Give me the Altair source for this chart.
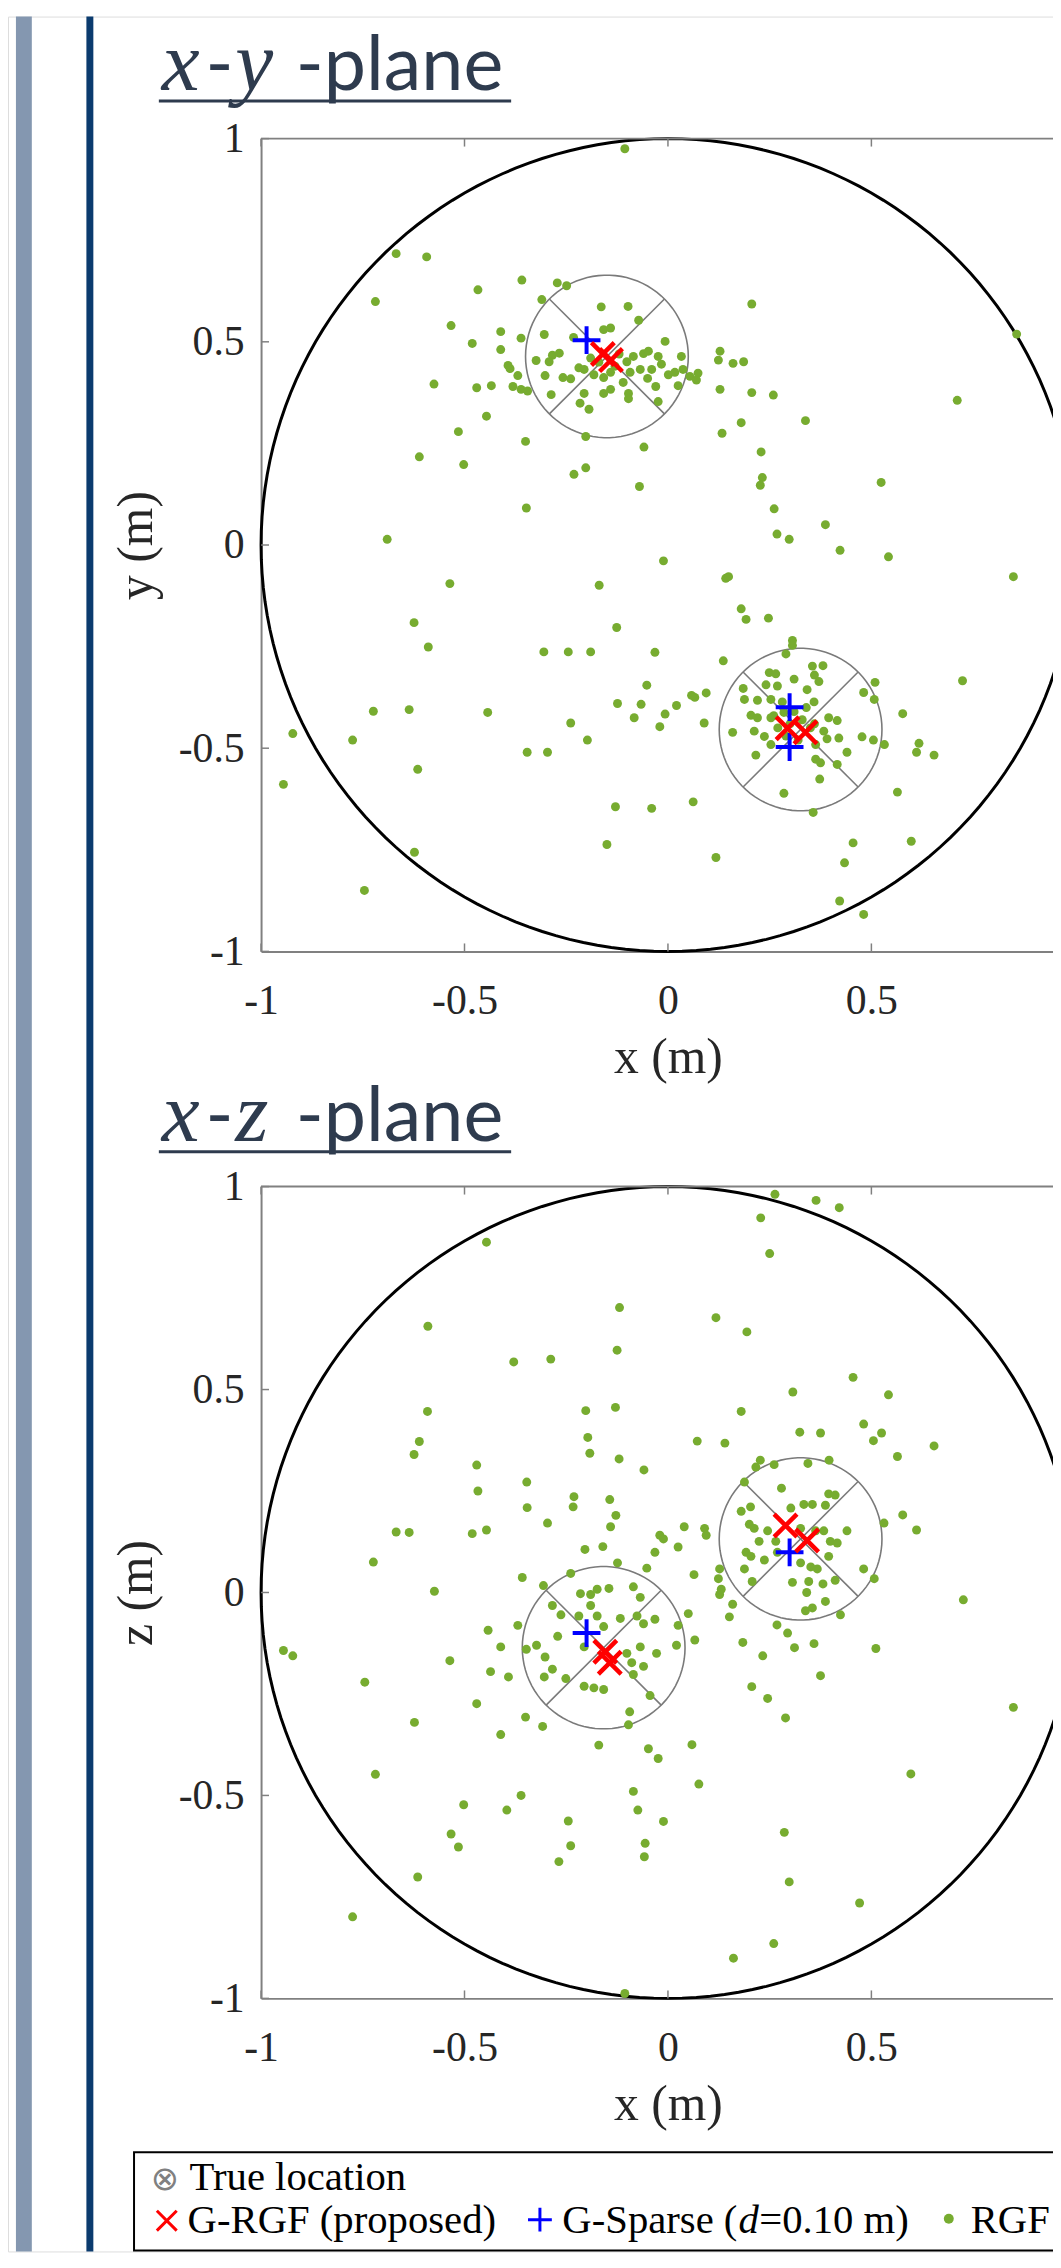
import altair as alt
import pandas as pd

# ------------------------------------------------------------------ data
TICKS = [-1, -0.5, 0, 0.5, 1]
X_LABEL_TICKS = [-1, -0.5, 0, 0.5]      # the label of x = 1 lies outside the picture
REGION_RADIUS = 1.0
TRUE_RADIUS = 0.2

# x-y plane : RGF estimates
XY_RGF_X = [-0.106, -0.668, -0.593, -0.719, -0.467, -0.359, -0.272, -0.249, -0.310, -0.164, -0.098, -0.072,
            -0.533, -0.411, -0.481, -0.411, -0.361, -0.304, -0.232, -0.158, -0.141, -0.324, -0.284, -0.267,
            -0.292, -0.393, -0.388, -0.369, -0.302, -0.258, -0.239, -0.219, -0.206, -0.182, -0.158, -0.141,
            -0.101, -0.085, -0.060, -0.093, -0.068, -0.575, -0.470, -0.434, -0.381, -0.361, -0.345, -0.287,
            -0.206, -0.158, -0.141, -0.097, -0.097, -0.216, -0.194, -0.446, -0.515, -0.350, -0.202, -0.059,
            -0.611, -0.502, -0.231, -0.202, -0.070, -0.348, -0.690, -0.536, -0.169, -0.624, -0.126, -0.589,
            -0.305, -0.245, -0.190, -0.052, -0.124, -0.066, -0.083, -0.724, -0.636, -0.443, -0.239, -0.922,
            -0.775, -0.198, -0.346, -0.296, -0.615, -0.945, -0.129, -0.040, -0.150, -0.623, -0.746,
            -0.007, -0.048, -0.024, -0.016, -0.040, 0.001, 0.017, 0.033, 0.037, 0.054, 0.074, 0.070, 0.025,
            -0.024, 0.206, 0.128, 0.124, 0.160, 0.186, 0.128, 0.206, 0.259, 0.338, 0.180, 0.133, 0.229,
            0.232, 0.227, 0.261, 0.524, 0.711, 0.857, 0.387, 0.268, 0.298, 0.423, 0.542, -0.011, 0.142,
            0.149, 0.849, 0.180, 0.192, 0.247, 0.306, 0.306, -0.032, 0.136, 0.290, 0.066, 0.094, 0.058,
            0.021, -0.007, -0.020, 0.089,
            0.249, 0.265, 0.355, 0.381, 0.310, 0.360, 0.371, 0.241, 0.269, 0.185, 0.342, 0.188, 0.220,
            0.253, 0.281, 0.359, 0.204, 0.220, 0.253, 0.285, 0.395, 0.416, 0.212, 0.159, 0.237, 0.383,
            0.420, 0.391, 0.253, 0.363, 0.216, 0.440, 0.363, 0.375, 0.416, 0.373, 0.285, 0.357, 0.477,
            0.505, 0.532, 0.481, 0.509, 0.507, 0.577, 0.617, 0.611, 0.654, 0.724, 0.564, 0.062, 0.118,
            0.455, 0.598, 0.434, 0.422, 0.481,
            0.300, 0.330, 0.350, 0.270, 0.320, 0.340, 0.290, 0.360, 0.260, 0.310,
            -0.130, -0.170, -0.120, -0.190, -0.110, -0.050, -0.030]
XY_RGF_Y = [0.975, 0.717, 0.709, 0.599, 0.628, 0.652, 0.645, 0.638, 0.604, 0.586, 0.587, 0.553,
            0.540, 0.525, 0.496, 0.481, 0.509, 0.518, 0.511, 0.530, 0.534, 0.454, 0.467, 0.472,
            0.451, 0.442, 0.434, 0.417, 0.417, 0.412, 0.409, 0.436, 0.432, 0.419, 0.412, 0.425,
            0.451, 0.464, 0.471, 0.425, 0.432, 0.396, 0.387, 0.392, 0.390, 0.383, 0.379, 0.370,
            0.373, 0.373, 0.383, 0.373, 0.360, 0.349, 0.334, 0.317, 0.279, 0.255, 0.267, 0.241,
            0.217, 0.198, 0.174, 0.190, 0.144, 0.091, 0.014, -0.095, -0.099, -0.191, -0.203, -0.251,
            -0.263, -0.263, -0.263, -0.345, -0.390, -0.392, -0.425, -0.409, -0.405, -0.412, -0.438, -0.464,
            -0.480, -0.480, -0.510, -0.510, -0.552, -0.589, -0.644, -0.648, -0.737, -0.756, -0.850,
            0.501, 0.477, 0.464, 0.445, 0.432, 0.419, 0.425, 0.464, 0.432, 0.415, 0.423, 0.406, 0.392,
            0.353, 0.593, 0.477, 0.455, 0.447, 0.451, 0.383, 0.375, 0.369, 0.306, 0.301, 0.275, 0.229,
            0.166, 0.147, 0.089, 0.154, 0.356, 0.519, 0.050, 0.027, 0.014, -0.013, -0.029, -0.039, -0.082,
            -0.078, -0.078, -0.157, -0.183, -0.180, -0.235, -0.247, -0.264, -0.285, -0.268, -0.375, -0.364, -0.370,
            -0.395, -0.416, -0.447, -0.438,
            -0.314, -0.317, -0.298, -0.297, -0.330, -0.320, -0.336, -0.344, -0.347, -0.353, -0.356, -0.380, -0.382,
            -0.380, -0.386, -0.386, -0.419, -0.425, -0.425, -0.412, -0.425, -0.432, -0.458, -0.461, -0.471, -0.458,
            -0.475, -0.477, -0.491, -0.491, -0.517, -0.510, -0.527, -0.536, -0.540, -0.576, -0.611, -0.658, -0.472,
            -0.480, -0.491, -0.363, -0.338, -0.380, -0.415, -0.488, -0.510, -0.517, -0.334, -0.608, -0.632, -0.769,
            -0.733, -0.729, -0.782, -0.876, -0.909,
            -0.440, -0.430, -0.450, -0.450, -0.480, -0.400, -0.470, -0.440, -0.420, -0.410,
            0.440, 0.450, 0.470, 0.460, 0.400, 0.410, 0.390]
XY_GRGF_X = [-0.160, -0.140, 0.294, 0.338]
XY_GRGF_Y = [0.470, 0.455, -0.451, -0.461]
XY_GSPARSE_X = [-0.200, 0.299, 0.299]
XY_GSPARSE_Y = [0.504, -0.399, -0.497]
XY_TRUE_X = [-0.150, 0.326]
XY_TRUE_Y = [0.464, -0.454]

# x-z plane : RGF estimates
XZ_RGF_X = [-0.446, -0.119, -0.125, -0.590, -0.379, -0.288, -0.591, -0.202, -0.129, -0.611, -0.624, -0.197,
            -0.192, -0.120, -0.470, -0.467, -0.347, -0.346, -0.231, -0.233, -0.143, -0.128, -0.141, -0.296,
            -0.059, -0.668, -0.636, -0.481, -0.446, -0.724, -0.574, -0.204, -0.160, -0.124, -0.052, -0.358,
            -0.306, -0.239, -0.215, -0.190, -0.174, -0.145, -0.085, -0.068, -0.284, -0.263, -0.219, -0.190,
            -0.174, -0.158, -0.117, -0.076, -0.060, -0.369, -0.442, -0.945, -0.922, -0.536, -0.411, -0.348,
            -0.323, -0.302, -0.271, -0.206, -0.101, -0.089, -0.068, -0.436, -0.392, -0.304, -0.284, -0.251,
            -0.206, -0.182, -0.158, -0.085, -0.060, -0.745, -0.470, -0.623, -0.350, -0.308, -0.411, -0.170,
            -0.094, -0.097, -0.048, -0.719, -0.502, -0.361, -0.396, -0.085, -0.074, -0.245, -0.533, -0.515,
            -0.239, -0.056, -0.058, -0.268, -0.615, -0.775, -0.106,
            0.263, 0.364, 0.421, 0.228, 0.250, 0.118, 0.194, 0.455, 0.307, 0.542, 0.180, 0.481, 0.324,
            0.375, 0.525, 0.505, 0.072, 0.140, 0.654, 0.564, 0.227, 0.216, 0.261, 0.344, 0.396, 0.188,
            0.279, 0.395, 0.411, 0.387, 0.180, 0.203, 0.302, 0.334, 0.355, 0.577, 0.531, 0.611, 0.040,
            0.090, 0.094, -0.020, -0.011, 0.025, -0.032, 0.200, 0.212, 0.224, 0.245, 0.265, 0.326, 0.363,
            0.383, 0.399, 0.416, 0.440, 0.192, 0.204, 0.237, 0.269, 0.326, 0.351, 0.367, 0.395, 0.188,
            0.207, 0.306, 0.346, 0.381, 0.411, 0.481, 0.507, 0.064, 0.127, 0.124, 0.127, 0.131, 0.341,
            0.387, 0.726, 0.159, 0.338, 0.355, 0.424, 0.151, 0.050, -0.032, 0.025, 0.268, 0.294, 0.066,
            0.184, 0.359, 0.311, 0.511, 0.021, 0.233, -0.028, 0.375, 0.206, 0.245, 0.289, 0.849, -0.044,
            -0.024, 0.059, 0.076, 0.597, -0.011, 0.286, 0.298, 0.471, 0.260, 0.161]
XZ_RGF_Z = [0.863, 0.702, 0.597, 0.656, 0.568, 0.575, 0.446, 0.448, 0.456, 0.372, 0.340, 0.382,
            0.343, 0.329, 0.314, 0.250, 0.272, 0.209, 0.236, 0.211, 0.229, 0.190, 0.162, 0.171,
            0.302, 0.149, 0.148, 0.145, 0.154, 0.075, 0.003, 0.106, 0.113, 0.073, 0.060, 0.037,
            0.017, 0.047, -0.003, -0.005, 0.008, 0.010, 0.014, -0.012, -0.032, -0.055, -0.058, -0.032,
            -0.058, -0.084, -0.064, -0.058, -0.077, -0.081, -0.093, -0.143, -0.156, -0.168, -0.134, -0.140,
            -0.130, -0.159, -0.108, -0.134, -0.150, -0.173, -0.134, -0.195, -0.208, -0.208, -0.189, -0.212,
            -0.231, -0.235, -0.239, -0.202, -0.182, -0.221, -0.274, -0.320, -0.307, -0.330, -0.350, -0.376,
            -0.294, -0.326, -0.385, -0.448, -0.523, -0.500, -0.536, -0.490, -0.536, -0.563, -0.595, -0.627,
            -0.624, -0.618, -0.651, -0.663, -0.701, -0.799, -0.988,
            0.981, 0.966, 0.948, 0.923, 0.835, 0.677, 0.642, 0.530, 0.494, 0.487, 0.446, 0.415, 0.395,
            0.393, 0.393, 0.374, 0.373, 0.368, 0.361, 0.335, 0.326, 0.309, 0.315, 0.318, 0.326, 0.272,
            0.257, 0.243, 0.240, 0.215, 0.200, 0.211, 0.208, 0.217, 0.217, 0.191, 0.171, 0.154, 0.162,
            0.158, 0.141, 0.141, 0.132, 0.112, 0.099, 0.168, 0.158, 0.126, 0.152, 0.126, 0.158, 0.152,
            0.152, 0.126, 0.122, 0.152, 0.099, 0.089, 0.080, 0.099, 0.073, 0.063, 0.058, 0.089, 0.058,
            0.027, 0.025, 0.027, 0.021, 0.030, 0.058, 0.034, 0.044, 0.058, 0.034, -0.005, 0.008, 0.000,
            -0.022, -0.018, -0.029, -0.045, -0.038, -0.055, -0.060, -0.052, -0.066, -0.081, -0.080, -0.100, -0.117,
            -0.123, -0.126, -0.136, -0.138, -0.130, -0.156, -0.150, -0.205, -0.232, -0.261, -0.309, -0.283, -0.254,
            -0.409, -0.375, -0.472, -0.447, -0.564, -0.591, -0.713, -0.765, -0.865, -0.901]
XZ_GRGF_X = [-0.154, -0.143, 0.289, 0.342]
XZ_GRGF_Z = [-0.146, -0.173, 0.165, 0.128]
XZ_GSPARSE_X = [-0.200, 0.299]
XZ_GSPARSE_Z = [-0.100, 0.099]
XZ_TRUE_X = [-0.158, 0.326]
XZ_TRUE_Z = [-0.136, 0.132]

# ------------------------------------------------------------------ style / layout
W, H = 1053, 2252
X_PIX = [255, 1075]          # pixel range of x in [-1, 1]
P1_Y_PIX = [942, 123]        # pixel range of y in [-1, 1]
P2_Y_PIX = [1997, 1179]      # pixel range of z in [-1, 1]
TICK_LEN = 8

GREEN = "#77AC30"
AXIS_GRAY = "#808080"
RING_GRAY = "#7A7A7A"
TEXT_DARK = "#262626"
TITLE_COLOR = "#2E3B4E"
SERIF = "Liberation Serif"
SANS = "Lato"
PLUS_PATH = "M-1,0L1,0M0,-1L0,1"
X_PATH = "M-1,-1L1,1M-1,1L1,-1"
MINUS_FIX = "replace(datum.label, '\u2212', '-')"
TICK_FS = 42
TITLE_FS = 50
LEG_FS = 41


def xscale():
    return alt.Scale(domain=[-1, 1], range=X_PIX, nice=False, zero=False)


def yscale(rng):
    return alt.Scale(domain=[-1, 1], range=rng, nice=False, zero=False)


def text(txt, x, y, font, size, color, style="normal", align="left", baseline="alphabetic", angle=0):
    return alt.Chart(pd.DataFrame({"t": [txt]})).mark_text(
        font=font, fontSize=size, fontStyle=style, color=color, align=align,
        baseline=baseline, angle=angle
    ).encode(text="t:N", x=alt.value(x), y=alt.value(y))


def panel(rx, ry, gx, gy, sx, sy, tx, ty, y_pix, ytitle):
    bottom, top = y_pix
    xs, ys = xscale(), yscale(y_pix)
    layers = []

    # region of interest (unit circle)
    layers.append(
        alt.Chart(alt.sequence(0, 361, 2, as_="t")).transform_calculate(
            px=f"{REGION_RADIUS}*cos(datum.t*PI/180)", py=f"{REGION_RADIUS}*sin(datum.t*PI/180)"
        ).mark_line(color="black", strokeWidth=3).encode(
            x=alt.X("px:Q", scale=xs, axis=None), y=alt.Y("py:Q", scale=ys, axis=None), order="t:Q")
    )

    tdf = pd.DataFrame({"cx": tx, "cy": ty, "id": list(range(len(tx)))})
    # true-location circles
    layers.append(
        alt.Chart(tdf).transform_calculate(ts="sequence(0, 361, 4)").transform_flatten(["ts"]).transform_calculate(
            px=f"datum.cx + {TRUE_RADIUS}*cos(datum.ts*PI/180)",
            py=f"datum.cy + {TRUE_RADIUS}*sin(datum.ts*PI/180)"
        ).mark_line(color=RING_GRAY, strokeWidth=1.6).encode(
            x=alt.X("px:Q", scale=xs, axis=None), y=alt.Y("py:Q", scale=ys, axis=None),
            detail="id:N", order="ts:Q")
    )
    # the "x" inside each true-location circle
    layers.append(
        alt.Chart(tdf).transform_calculate(s="[1, -1]").transform_flatten(["s"]).transform_calculate(
            x1=f"datum.cx - {TRUE_RADIUS}*SQRT1_2", y1=f"datum.cy - datum.s*{TRUE_RADIUS}*SQRT1_2",
            x2=f"datum.cx + {TRUE_RADIUS}*SQRT1_2", y2=f"datum.cy + datum.s*{TRUE_RADIUS}*SQRT1_2"
        ).mark_rule(color=RING_GRAY, strokeWidth=1.6).encode(
            x=alt.X("x1:Q", scale=xs, axis=None), x2="x2:Q",
            y=alt.Y("y1:Q", scale=ys, axis=None), y2="y2:Q")
    )

    axis_common = dict(
        grid=False, ticks=False, tickSize=0, domain=True, domainColor=AXIS_GRAY,
        domainWidth=2, labelFont=SERIF, labelFontSize=TICK_FS, labelColor=TEXT_DARK, labelFlush=False,
        labelOverlap=False, format="~g", labelExpr=MINUS_FIX, titleFont=SERIF, titleFontSize=TITLE_FS,
        titleFontWeight="normal", titleColor=TEXT_DARK,
    )
    # RGF estimates (carry the axes)
    layers.append(
        alt.Chart(pd.DataFrame({"x": rx, "y": ry})).mark_circle(size=81, color=GREEN, opacity=1).encode(
            x=alt.X("x:Q", scale=xs, axis=alt.Axis(orient="bottom", offset=bottom - H, title="x (m)",
                                                   values=X_LABEL_TICKS, labelPadding=30,
                                                   titlePadding=11, **axis_common)),
            y=alt.Y("y:Q", scale=ys, axis=alt.Axis(orient="left", offset=-X_PIX[0], title=ytitle,
                                                   values=TICKS, labelPadding=17, titlePadding=17,
                                                   **axis_common)),
        )
    )
    # G-Sparse
    layers.append(
        alt.Chart(pd.DataFrame({"x": sx, "y": sy})).mark_point(
            shape=PLUS_PATH, filled=False, color="#0000FF", strokeWidth=4, size=784, opacity=1
        ).encode(x=alt.X("x:Q", scale=xs, axis=None), y=alt.Y("y:Q", scale=ys, axis=None))
    )
    # G-RGF
    layers.append(
        alt.Chart(pd.DataFrame({"x": gx, "y": gy})).mark_point(
            shape=X_PATH, filled=False, color="#FF0000", strokeWidth=4.5, size=529, opacity=1
        ).encode(x=alt.X("x:Q", scale=xs, axis=None), y=alt.Y("y:Q", scale=ys, axis=None))
    )

    # box: top edge and inward ticks
    tk = pd.DataFrame({"v": TICKS})
    layers.append(
        alt.Chart(pd.DataFrame({"a": [-1], "b": [1]})).mark_rule(color=AXIS_GRAY, strokeWidth=2).encode(
            x=alt.X("a:Q", scale=xs, axis=None), x2="b:Q", y=alt.value(top))
    )
    layers.append(
        alt.Chart(tk).mark_rule(color=AXIS_GRAY, strokeWidth=1.5).encode(
            x=alt.X("v:Q", scale=xs, axis=None), y=alt.value(bottom), y2=alt.value(bottom - TICK_LEN))
    )
    layers.append(
        alt.Chart(tk).mark_rule(color=AXIS_GRAY, strokeWidth=1.5).encode(
            x=alt.X("v:Q", scale=xs, axis=None), y=alt.value(top), y2=alt.value(top + TICK_LEN))
    )
    layers.append(
        alt.Chart(tk).mark_rule(color=AXIS_GRAY, strokeWidth=1.5).encode(
            y=alt.Y("v:Q", scale=ys, axis=None), x=alt.value(X_PIX[0]), x2=alt.value(X_PIX[0] + TICK_LEN))
    )
    return layers


def plane_title(var2, base_y):
    return [
        text("x", 155, base_y, SERIF, 86, TITLE_COLOR, style="italic"),
        text("-", 199, base_y, SANS, 76, TITLE_COLOR),
        text(var2, 229, base_y, SERIF, 86, TITLE_COLOR, style="italic"),
        text("-plane", 290, base_y, SANS, 76, TITLE_COLOR),
        alt.Chart(pd.DataFrame({"a": [0]})).mark_rule(color=TITLE_COLOR, strokeWidth=3).encode(
            x=alt.value(152), x2=alt.value(507), y=alt.value(base_y + 11)),
    ]


# decorative slide bars on the left
deco = [
    alt.Chart(pd.DataFrame({"a": [0]})).mark_rect(color="#8497B0").encode(
        x=alt.value(8), x2=alt.value(24), y=alt.value(0), y2=alt.value(H)),
    alt.Chart(pd.DataFrame({"a": [0]})).mark_rect(color="#0B3B6E").encode(
        x=alt.value(79), x2=alt.value(86), y=alt.value(0), y2=alt.value(H)),
]

# legend box
legend = [
    alt.Chart(pd.DataFrame({"a": [0]})).mark_rect(fill="white", stroke="black", strokeWidth=2).encode(
        x=alt.value(127), x2=alt.value(1100), y=alt.value(2152), y2=alt.value(2251)),
    text("\u2297", 158, 2180, "DejaVu Sans", 34, "#808080", align="center", baseline="middle"),
    text("True location", 183, 2190, SERIF, LEG_FS, "black"),
    alt.Chart(pd.DataFrame({"a": [0]})).mark_point(shape=X_PATH, filled=False, color="#FF0000",
                                                  strokeWidth=3, size=400, opacity=1).encode(
        x=alt.value(160), y=alt.value(2221)),
    text("G-RGF (proposed)", 181, 2233, SERIF, LEG_FS, "black"),
    alt.Chart(pd.DataFrame({"a": [0]})).mark_point(shape=PLUS_PATH, filled=False, color="#0000FF",
                                                  strokeWidth=3, size=576, opacity=1).encode(
        x=alt.value(536), y=alt.value(2220)),
    text("G-Sparse (", 735, 2233, SERIF, LEG_FS, "black", align="right"),
    text("d", 736, 2233, SERIF, LEG_FS, "black", style="italic"),
    text("=0.10 m)", 757, 2233, SERIF, LEG_FS, "black"),
    alt.Chart(pd.DataFrame({"a": [0]})).mark_circle(color=GREEN, size=100, opacity=1).encode(
        x=alt.value(948), y=alt.value(2219)),
    text("RGF", 970, 2233, SERIF, LEG_FS, "black"),
]

layers = (
    deco
    + plane_title("y", 74)
    + panel(XY_RGF_X, XY_RGF_Y, XY_GRGF_X, XY_GRGF_Y, XY_GSPARSE_X, XY_GSPARSE_Y,
            XY_TRUE_X, XY_TRUE_Y, P1_Y_PIX, "y (m)")
    + plane_title("z", 1133)
    + panel(XZ_RGF_X, XZ_RGF_Z, XZ_GRGF_X, XZ_GRGF_Z, XZ_GSPARSE_X, XZ_GSPARSE_Z,
            XZ_TRUE_X, XZ_TRUE_Z, P2_Y_PIX, "z (m)")
    + legend
)

chart = alt.layer(*layers).resolve_scale(x="independent", y="independent").properties(
    width=W, height=H, autosize=alt.AutoSizeParams(type="none"),
    padding={"left": 0, "top": 0, "right": 0, "bottom": 0},
).configure_view(strokeWidth=0).configure(background="white")

chart.save("out.html", embed_options={"renderer": "svg", "actions": False})
